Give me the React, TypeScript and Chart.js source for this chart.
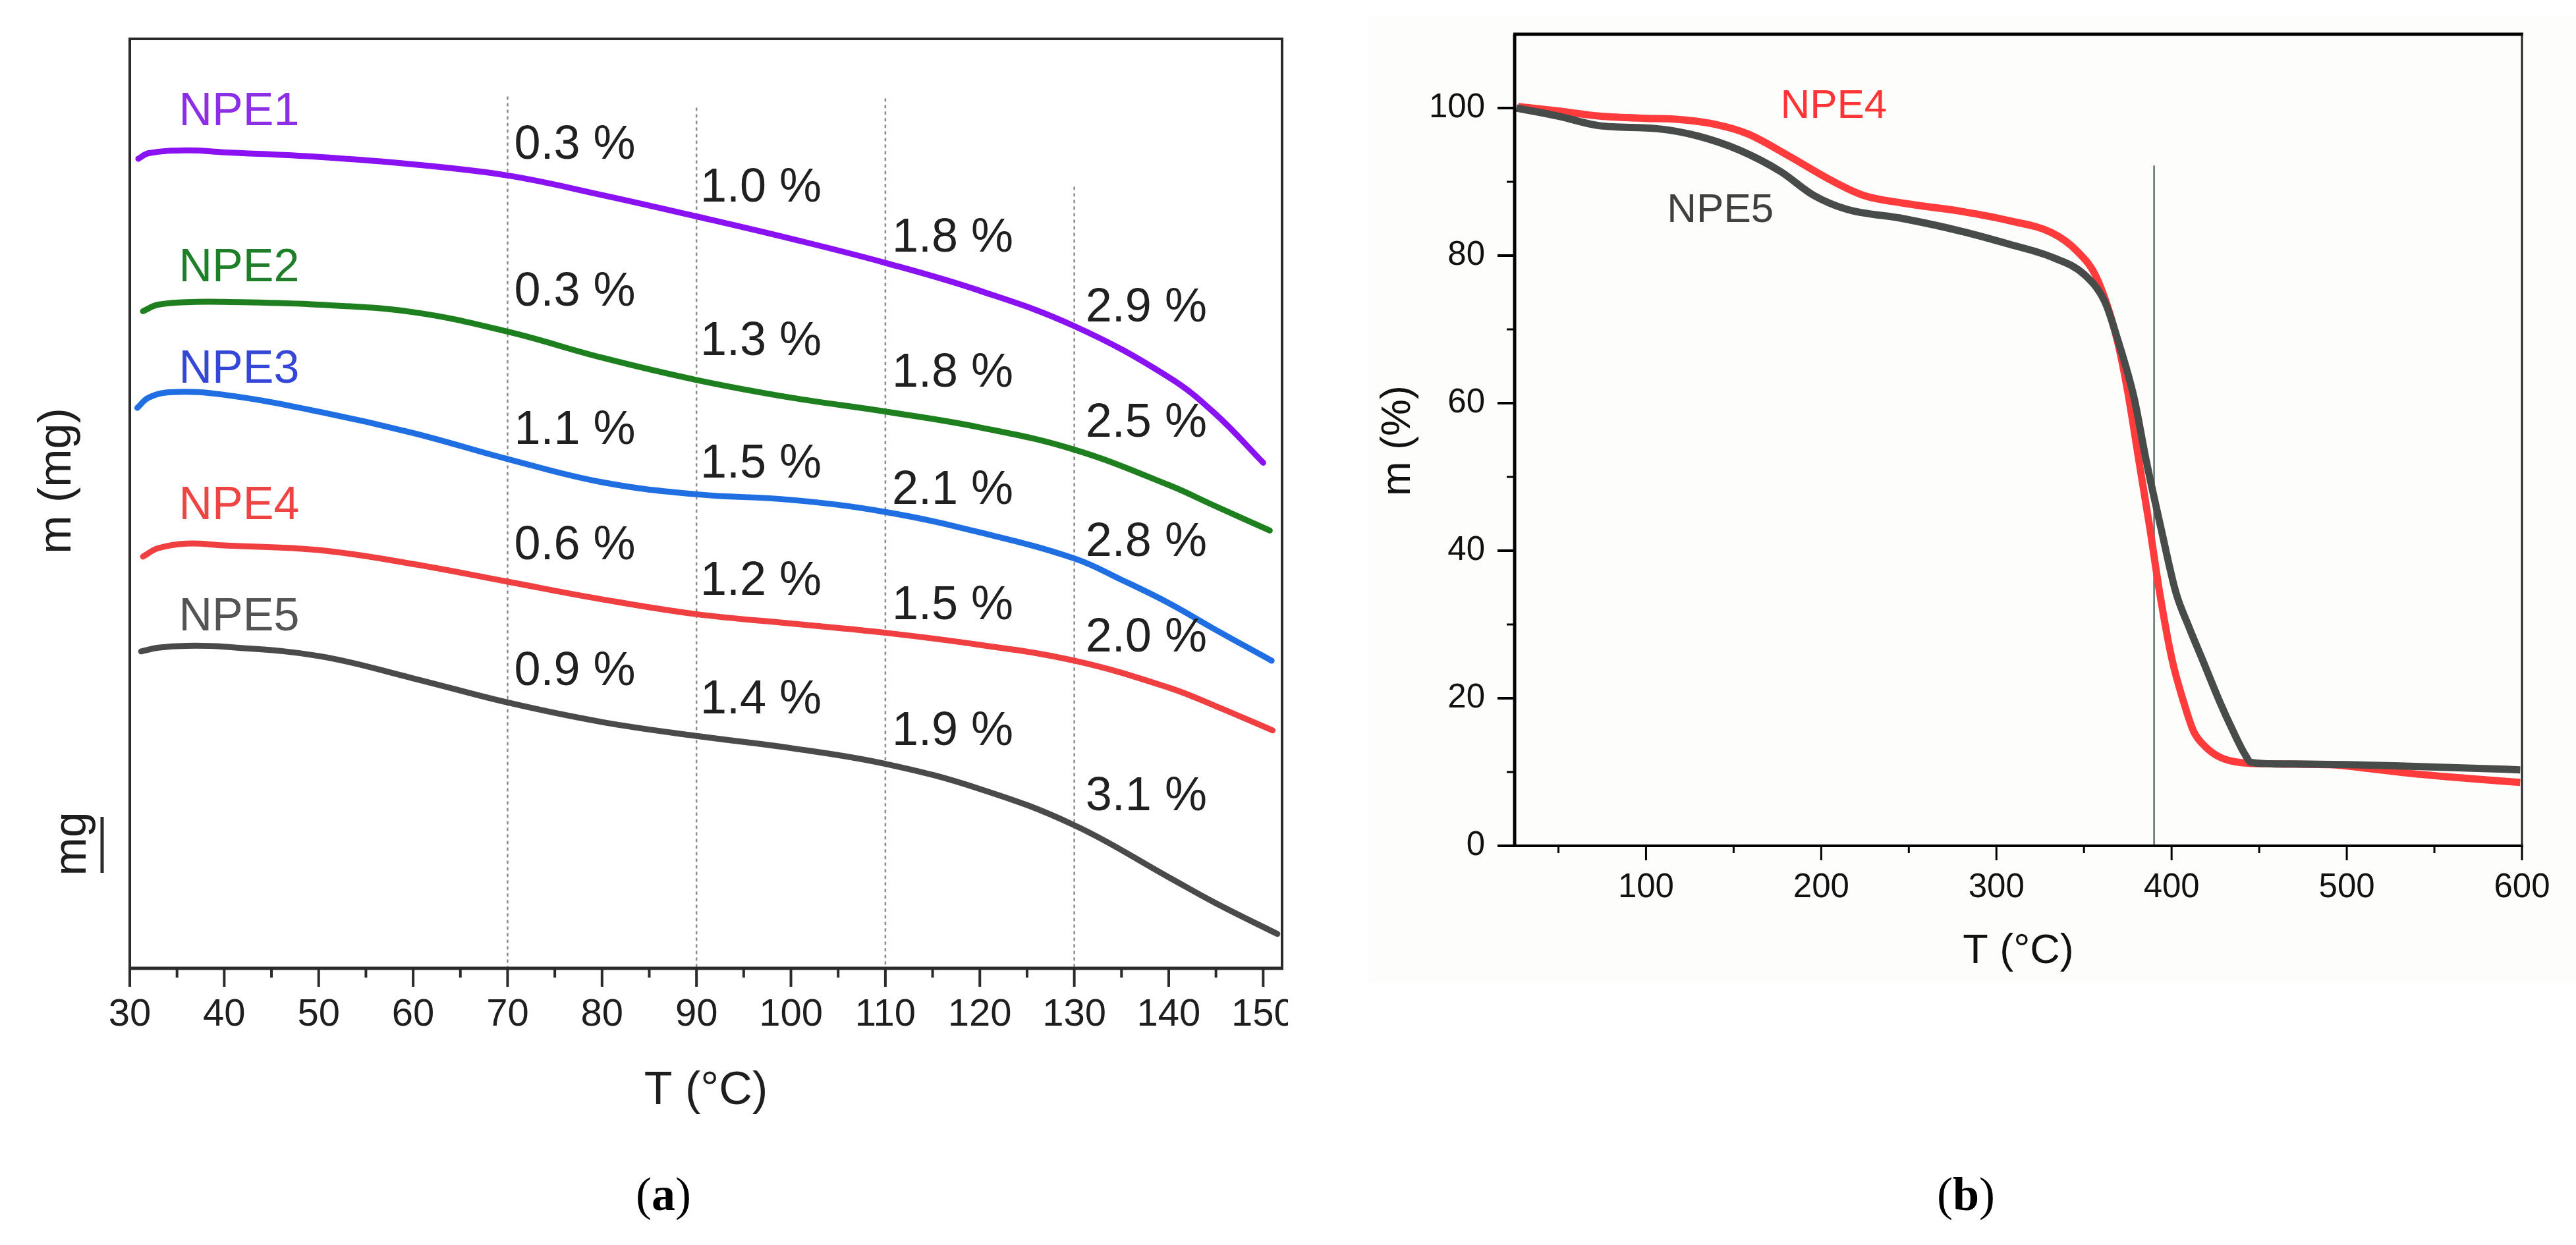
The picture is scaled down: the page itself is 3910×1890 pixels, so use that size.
import React, { useEffect, useRef } from "react";
import { Chart, registerables, ChartConfiguration, Plugin } from "chart.js";

Chart.register(...registerables);

const SANS = "'Liberation Sans', Arial, Helvetica, sans-serif";
const SERIF = "'Liberation Serif', 'Times New Roman', serif";

// ---------- panel (a): mass vs temperature, 30-150 °C ----------
const A_X_TICKS = [30, 40, 50, 60, 70, 80, 90, 100, 110, 120, 130, 140, 150];
const A_X_MINOR = [35, 45, 55, 65, 75, 85, 95, 105, 115, 125, 135, 145];

const NPE1_T = [30.9, 32, 36, 40, 50, 60, 70, 80, 90, 100, 110, 120, 130, 140, 145, 150];
const NPE1_M = [87.1, 87.7, 88.0, 87.8, 87.3, 86.5, 85.3, 83.2, 80.9, 78.5, 75.9, 72.9, 69.1, 63.6, 59.6, 54.4];
const NPE2_T = [31.4, 33, 37, 40, 50, 60, 70, 80, 90, 100, 110, 120, 130, 140, 145, 150.7];
const NPE2_M = [70.7, 71.4, 71.7, 71.7, 71.4, 70.6, 68.5, 65.7, 63.3, 61.4, 59.9, 58.2, 55.8, 52.0, 49.7, 47.1];
const NPE3_T = [30.8, 32, 34.5, 40, 50, 60, 70, 80, 90, 100, 110, 120, 130, 135, 140, 145, 150.9];
const NPE3_M = [60.3, 61.4, 62.0, 61.7, 59.9, 57.6, 54.8, 52.3, 51.0, 50.4, 49.1, 46.9, 44.1, 41.8, 39.3, 36.4, 33.1];
const NPE4_T = [31.4, 33, 36, 40, 50, 60, 70, 80, 90, 100, 110, 120, 130, 140, 145, 151];
const NPE4_M = [44.3, 45.2, 45.7, 45.5, 45.0, 43.5, 41.6, 39.7, 38.1, 37.1, 36.1, 34.8, 33.1, 30.2, 28.2, 25.6];
const NPE5_T = [31.2, 33, 36, 40, 50, 60, 70, 80, 90, 100, 110, 120, 130, 140, 145, 151.5];
const NPE5_M = [34.1, 34.5, 34.7, 34.6, 33.6, 31.2, 28.6, 26.5, 25.0, 23.7, 22.0, 19.3, 15.4, 9.8, 7.0, 3.7];

// where the sample names sit (T of left edge, m of centre)
const A_NAME_T = 35.2;
const A_NAME_M = [92.1, 75.3, 64.4, 49.7, 37.7];

// dotted guide lines and the mass-loss notes beside them
const GUIDE_T = [70, 90, 110, 130];
const GUIDE_TOP = [93.8, 92.6, 93.6, 84.1];
const LOSS_T = [70.7, 90.4, 110.7, 131.2];
const LOSS_TEXT = [
  ["0.3 %", "0.3 %", "1.1 %", "0.6 %", "0.9 %"],
  ["1.0 %", "1.3 %", "1.5 %", "1.2 %", "1.4 %"],
  ["1.8 %", "1.8 %", "2.1 %", "1.5 %", "1.9 %"],
  ["2.9 %", "2.5 %", "2.8 %", "2.0 %", "3.1 %"],
];
const LOSS_M = [
  [88.5, 72.7, 57.8, 45.4, 31.9],
  [83.9, 67.4, 54.2, 41.6, 28.8],
  [78.5, 64.0, 51.4, 39.0, 25.4],
  [71.0, 58.6, 45.8, 35.5, 18.4],
];

// ---------- panel (b): full TGA run, NPE4 vs NPE5 ----------
const B_X_TICKS = [100, 200, 300, 400, 500, 600];
const B_X_MINOR = [50, 150, 250, 350, 450, 550];
const B_Y_TICKS = [0, 20, 40, 60, 80, 100];
const B_Y_MINOR = [10, 30, 50, 70, 90];

const B_NPE4_T = [27, 50, 73.6, 100, 115.8, 139.2, 158, 181.5, 204.9, 223.7, 247, 280, 308, 331.6, 345.6, 357.4, 369, 375, 381.4, 387.5, 393.2, 400.2, 407, 412.6, 419, 427.7, 439, 460, 490, 515, 533, 560, 599];
const B_NPE4_M = [100.2, 99.6, 98.9, 98.6, 98.5, 97.8, 96.5, 93.5, 90.3, 88.2, 87.1, 86.0, 84.7, 83.1, 80.7, 76.9, 68.5, 61.5, 52.1, 43.2, 34.3, 25.3, 19.4, 15.5, 13.5, 12.0, 11.3, 11.1, 11.0, 10.4, 9.9, 9.3, 8.6];
const B_NPE5_T = [26, 50, 73.6, 106.4, 129.8, 153.3, 176.8, 195.5, 214.3, 247, 280, 308, 331.6, 350.3, 362, 369, 378.5, 385.6, 393.8, 402.5, 410, 417.5, 427.7, 435.2, 441.6, 445.4, 460, 500, 533, 575, 599];
const B_NPE5_M = [100.0, 98.9, 97.6, 97.2, 96.2, 94.3, 91.4, 88.2, 86.3, 85.0, 83.3, 81.5, 79.8, 77.4, 73.7, 68.8, 60.8, 52.1, 43.2, 34.3, 29.6, 25.3, 19.4, 15.5, 12.5, 11.3, 11.1, 11.0, 10.8, 10.5, 10.3];

const MARK_T = 390;
const MARK_TOP = 92.2;
const B_NAMES = ["NPE4", "NPE5"];
const B_NAME_T = [176.7, 112];
const B_NAME_M = [100.2, 86.1];

const toPoints = (t: number[], m: number[]) => t.map((x, i) => ({ x, y: m[i] }));

const A_SERIES = [
  { name: "NPE1", t: NPE1_T, m: NPE1_M, line: "#8a12f2", text: "#8c2ee6" },
  { name: "NPE2", t: NPE2_T, m: NPE2_M, line: "#1d7f1d", text: "#1f7f28" },
  { name: "NPE3", t: NPE3_T, m: NPE3_M, line: "#1f6fe3", text: "#3447d6" },
  { name: "NPE4", t: NPE4_T, m: NPE4_M, line: "#f03f40", text: "#ee4444" },
  { name: "NPE5", t: NPE5_T, m: NPE5_M, line: "#4a4a4a", text: "#545454" },
];

const vline = (ctx: CanvasRenderingContext2D, x: number, y0: number, y1: number) => {
  ctx.beginPath();
  ctx.moveTo(x, y0);
  ctx.lineTo(x, y1);
  ctx.stroke();
};
const hline = (ctx: CanvasRenderingContext2D, y: number, x0: number, x1: number) => {
  ctx.beginPath();
  ctx.moveTo(x0, y);
  ctx.lineTo(x1, y);
  ctx.stroke();
};

// "(a)" with the letter in bold, like the journal caption
const drawCaption = (ctx: CanvasRenderingContext2D, letter: string, cx: number, cy: number) => {
  ctx.save();
  ctx.fillStyle = "#000";
  ctx.textBaseline = "middle";
  ctx.textAlign = "left";
  const normal = `72px ${SERIF}`;
  const bold = `bold 72px ${SERIF}`;
  ctx.font = normal;
  const wp = ctx.measureText("(").width;
  const wq = ctx.measureText(")").width;
  ctx.font = bold;
  const wl = ctx.measureText(letter).width;
  let x = cx - (wp + wl + wq) / 2;
  ctx.font = normal;
  ctx.fillText("(", x, cy);
  x += wp;
  ctx.font = bold;
  ctx.fillText(letter, x, cy);
  x += wl;
  ctx.font = normal;
  ctx.fillText(")", x, cy);
  ctx.restore();
};

const panelAPlugin: Plugin<"line"> = {
  id: "panelA",
  beforeDatasetsDraw(chart) {
    const { ctx, scales } = chart;
    const xs = scales.x;
    const ys = scales.y;
    ctx.save();
    ctx.strokeStyle = "#8c8c8c";
    ctx.lineWidth = 2.5;
    ctx.setLineDash([5, 5]);
    GUIDE_T.forEach((t, i) => {
      vline(ctx, xs.getPixelForValue(t), ys.getPixelForValue(GUIDE_TOP[i]), ys.getPixelForValue(0));
    });
    ctx.restore();
  },
  afterDatasetsDraw(chart) {
    const { ctx, scales } = chart;
    const xs = scales.x;
    const ys = scales.y;
    ctx.save();
    ctx.textBaseline = "middle";
    ctx.textAlign = "left";
    ctx.font = `70px ${SANS}`;
    A_SERIES.forEach((s, i) => {
      ctx.fillStyle = s.text;
      ctx.fillText(s.name, xs.getPixelForValue(A_NAME_T), ys.getPixelForValue(A_NAME_M[i]));
    });
    ctx.font = `72px ${SANS}`;
    ctx.fillStyle = "#202020";
    LOSS_T.forEach((t, c) => {
      LOSS_TEXT[c].forEach((txt, r) => {
        ctx.fillText(txt, xs.getPixelForValue(t), ys.getPixelForValue(LOSS_M[c][r]));
      });
    });
    ctx.restore();
  },
  afterDraw(chart) {
    const { ctx, chartArea, scales } = chart;
    const { left, right, top, bottom } = chartArea;
    const xs = scales.x;
    ctx.save();
    ctx.strokeStyle = "#2a2a2a";
    ctx.lineWidth = 4;
    hline(ctx, top, left - 2, right + 2);
    vline(ctx, right, top, bottom);
    vline(ctx, left, top, bottom);
    ctx.lineWidth = 5;
    hline(ctx, bottom, left - 2, right + 2);
    ctx.lineWidth = 4;
    A_X_TICKS.forEach((t) => vline(ctx, xs.getPixelForValue(t), bottom, bottom + 28));
    A_X_MINOR.forEach((t) => vline(ctx, xs.getPixelForValue(t), bottom, bottom + 14));

    ctx.fillStyle = "#1e1e1e";
    ctx.textAlign = "center";
    ctx.textBaseline = "middle";
    ctx.font = `70px ${SANS}`;
    ctx.fillText("T (°C)", (left + right) / 2, 1657);

    ctx.save();
    ctx.translate(88, 730);
    ctx.rotate(-Math.PI / 2);
    ctx.fillText("m (mg)", 0, 0);
    ctx.restore();

    // scale bar "mg"
    ctx.save();
    ctx.translate(130, 1281);
    ctx.rotate(-Math.PI / 2);
    ctx.textBaseline = "alphabetic";
    ctx.fillText("mg", 0, 0);
    ctx.restore();
    ctx.lineWidth = 5;
    vline(ctx, 155, 1240, 1325);
    ctx.restore();

    drawCaption(ctx, "a", 1007, 1818);
  },
};

const panelBPlugin: Plugin<"line"> = {
  id: "panelB",
  beforeDraw(chart) {
    const { ctx, width } = chart;
    ctx.save();
    ctx.fillStyle = "#fdfdfb";
    ctx.fillRect(121, 23, width - 121, 1470);
    ctx.restore();
  },
  beforeDatasetsDraw(chart) {
    const { ctx, scales } = chart;
    ctx.save();
    ctx.strokeStyle = "#5c726c";
    ctx.lineWidth = 2.5;
    vline(ctx, scales.x.getPixelForValue(MARK_T), scales.y.getPixelForValue(MARK_TOP), scales.y.getPixelForValue(0));
    ctx.restore();
  },
  afterDatasetsDraw(chart) {
    const { ctx, scales } = chart;
    ctx.save();
    ctx.textBaseline = "middle";
    ctx.textAlign = "left";
    ctx.font = `62px ${SANS}`;
    const colors = ["#ff3434", "#404040"];
    B_NAMES.forEach((n, i) => {
      ctx.fillStyle = colors[i];
      ctx.fillText(n, scales.x.getPixelForValue(B_NAME_T[i]), scales.y.getPixelForValue(B_NAME_M[i]));
    });
    ctx.restore();
  },
  afterDraw(chart) {
    const { ctx, chartArea, scales } = chart;
    const { left, right, top, bottom } = chartArea;
    const xs = scales.x;
    const ys = scales.y;
    ctx.save();
    ctx.strokeStyle = "#000";
    ctx.lineWidth = 5;
    hline(ctx, top, left - 2, right + 2);
    vline(ctx, left, top, bottom);
    ctx.lineWidth = 4;
    hline(ctx, bottom, left - 2, right + 2);
    ctx.strokeStyle = "#222";
    ctx.lineWidth = 3;
    vline(ctx, right, top, bottom);

    ctx.strokeStyle = "#000";
    ctx.lineWidth = 4;
    B_Y_TICKS.forEach((v) => hline(ctx, ys.getPixelForValue(v), left - 26, left));
    ctx.lineWidth = 3;
    B_Y_MINOR.forEach((v) => hline(ctx, ys.getPixelForValue(v), left - 12, left));
    B_X_TICKS.forEach((t) => vline(ctx, xs.getPixelForValue(t), bottom, bottom + 22));
    B_X_MINOR.forEach((t) => vline(ctx, xs.getPixelForValue(t), bottom, bottom + 11));

    ctx.fillStyle = "#111";
    ctx.textAlign = "center";
    ctx.textBaseline = "middle";
    ctx.font = `63px ${SANS}`;
    ctx.fillText("T (°C)", (left + right) / 2, 1445);
    ctx.save();
    ctx.translate(168, 669);
    ctx.rotate(-Math.PI / 2);
    ctx.fillText("m (%)", 0, 0);
    ctx.restore();
    ctx.restore();

    drawCaption(ctx, "b", 1029, 1818);
  },
};

const PanelA: React.FC = () => {
  const canvasRef = useRef<HTMLCanvasElement | null>(null);
  const chartRef = useRef<Chart<"line"> | null>(null);

  useEffect(() => {
    if (!canvasRef.current) return;
    chartRef.current?.destroy();

    const config: ChartConfiguration<"line"> = {
      type: "line",
      data: {
        datasets: A_SERIES.map((s) => ({
          label: s.name,
          data: toPoints(s.t, s.m),
          borderColor: s.line,
          borderWidth: 9,
          borderCapStyle: "round",
          borderJoinStyle: "round",
          pointRadius: 0,
          tension: 0.4,
          fill: false,
        })),
      },
      options: {
        animation: false,
        responsive: true,
        maintainAspectRatio: false,
        layout: { padding: { left: 197, right: 9, top: 59, bottom: 270 } },
        plugins: { legend: { display: false }, tooltip: { enabled: false } },
        scales: {
          x: {
            type: "linear",
            min: 30,
            max: 152,
            afterBuildTicks: (s) => {
              s.ticks = A_X_TICKS.map((value) => ({ value }));
            },
            afterFit: (s) => {
              s.height = 150;
              s.paddingLeft = 0;
              s.paddingRight = 0;
            },
            grid: { display: false, drawTicks: false },
            border: { display: false },
            ticks: {
              padding: 36,
              color: "#1e1e1e",
              maxRotation: 0,
              autoSkip: false,
              font: { family: SANS, size: 58 },
            },
          },
          y: { type: "linear", min: 0, max: 100, display: false },
        },
      },
      plugins: [panelAPlugin],
    };

    chartRef.current = new Chart(canvasRef.current, config);
    return () => {
      chartRef.current?.destroy();
      chartRef.current = null;
    };
  }, []);

  return (
    <div style={{ position: "absolute", left: 0, top: 0, width: 1955, height: 1890 }}>
      <canvas ref={canvasRef} />
    </div>
  );
};

const PanelB: React.FC = () => {
  const canvasRef = useRef<HTMLCanvasElement | null>(null);
  const chartRef = useRef<Chart<"line"> | null>(null);

  useEffect(() => {
    if (!canvasRef.current) return;
    chartRef.current?.destroy();

    const config: ChartConfiguration<"line"> = {
      type: "line",
      data: {
        // NPE5 first so it is painted over NPE4, as in the figure
        datasets: [
          {
            label: "NPE5",
            data: toPoints(B_NPE5_T, B_NPE5_M),
            borderColor: "#474b49",
            borderWidth: 11,
            pointRadius: 0,
            cubicInterpolationMode: "monotone",
            fill: false,
          },
          {
            label: "NPE4",
            data: toPoints(B_NPE4_T, B_NPE4_M),
            borderColor: "#ff3b3b",
            borderWidth: 11,
            pointRadius: 0,
            cubicInterpolationMode: "monotone",
            fill: false,
          },
        ],
      },
      options: {
        animation: false,
        responsive: true,
        maintainAspectRatio: false,
        layout: { padding: { left: 144, right: 82, top: 52, bottom: 456 } },
        plugins: { legend: { display: false }, tooltip: { enabled: false } },
        scales: {
          x: {
            type: "linear",
            min: 25,
            max: 600,
            afterBuildTicks: (s) => {
              s.ticks = B_X_TICKS.map((value) => ({ value }));
            },
            afterFit: (s) => {
              s.height = 150;
              s.paddingLeft = 0;
              s.paddingRight = 0;
            },
            grid: { display: false, drawTicks: false },
            border: { display: false },
            ticks: {
              padding: 33,
              color: "#111",
              maxRotation: 0,
              autoSkip: false,
              font: { family: SANS, size: 51 },
            },
          },
          y: {
            type: "linear",
            min: 0,
            max: 110,
            afterBuildTicks: (s) => {
              s.ticks = B_Y_TICKS.map((value) => ({ value }));
            },
            afterFit: (s) => {
              s.width = 200;
              s.paddingTop = 0;
              s.paddingBottom = 0;
            },
            grid: { display: false, drawTicks: false },
            border: { display: false },
            ticks: {
              padding: 45,
              color: "#111",
              autoSkip: false,
              font: { family: SANS, size: 51 },
            },
          },
        },
      },
      plugins: [panelBPlugin],
    };

    chartRef.current = new Chart(canvasRef.current, config);
    return () => {
      chartRef.current?.destroy();
      chartRef.current = null;
    };
  }, []);

  return (
    <div style={{ position: "absolute", left: 1955, top: 0, width: 1955, height: 1890 }}>
      <canvas ref={canvasRef} />
    </div>
  );
};

const App: React.FC = () => {
  useEffect(() => {
    document.body.style.margin = "0";
    document.body.style.background = "#fff";
  }, []);

  return (
    <div style={{ position: "relative", width: 3910, height: 1890, overflow: "hidden", background: "#fff" }}>
      <PanelA />
      <PanelB />
    </div>
  );
};

export default App;
